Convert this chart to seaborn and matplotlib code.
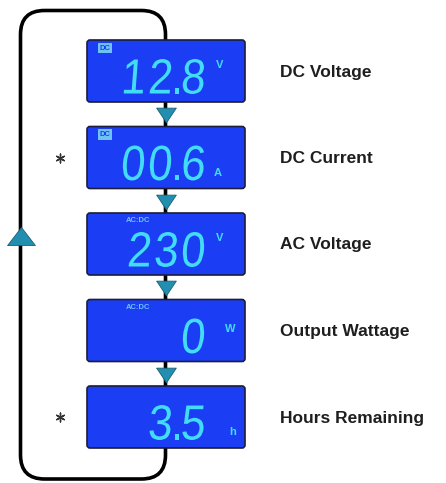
import matplotlib
matplotlib.use("Agg")
import matplotlib.pyplot as plt
import seaborn as sns
import pandas as pd
from matplotlib.patches import FancyBboxPatch, PathPatch
from matplotlib.textpath import TextPath
from matplotlib.font_manager import FontProperties
from matplotlib.transforms import Affine2D

sns.set_theme(style="white")
plt.rcParams['font.family'] = ['Liberation Sans', 'DejaVu Sans']

# display cycle data
labels = ["DC Voltage", "DC Current", "AC Voltage", "Output Wattage", "Hours Remaining"]
readings = ["12.8", "00.6", "230", "0", "3.5"]
units = ["V", "A", "V", "W", "h"]
modes = ["DC", "DC", "AC", "AC", ""]
starred = [False, True, False, False, True]

# layout (pixels)
W, H = 446, 483
scr_x0, scr_x1 = 87, 245
scr_top0, pitch, scr_h = 40, 86.5, 62
line_x = 165.5
blue = "#1b3ef5"
cyan = "#42dcf6"
teal = "#238fb0"
unit_offset = {"V": 25, "W": 29, "A": 47, "h": 46}
unit_x = {"V": 220, "A": 218, "W": 230, "h": 233}
digit_cell, digit_w, digit_h = 27, 21, 35

fig = plt.figure(figsize=(W / 100, H / 100), dpi=100)
ax = fig.add_axes([0, 0, 1, 1])
ax.set_xlim(0, W)
ax.set_ylim(H, 0)
ax.axis("off")

# loop line
loop = FancyBboxPatch((20.5, 10.5), line_x - 20.5, 468.5,
                      boxstyle="round,pad=0,rounding_size=24",
                      fill=False, ec="black", lw=2.6, zorder=1)
ax.add_patch(loop)

tops = [scr_top0 + i * pitch for i in range(len(labels))]
centers = [t + scr_h / 2 for t in tops]

digit_font = FontProperties(family="Liberation Sans")
ref = TextPath((0, 0), "0", size=49, prop=digit_font).get_extents()
sx = digit_w / ref.width
sy = digit_h / ref.height


def draw_reading(s, x_right, cy):
    for ch in reversed(s):
        tp = TextPath((0, 0), ch, size=49, prop=digit_font)
        ext = tp.get_extents()
        if ch == ".":
            tr = (Affine2D().translate(-ext.x1, -(ref.y0 + ref.y1) / 2)
                  .scale(sx, -sy).translate(x_right + 2, cy))
            x_right -= 6
        else:
            tr = (Affine2D().translate(-ext.x1, -(ref.y0 + ref.y1) / 2)
                  .skew_deg(5, 0).scale(sx, -sy).translate(x_right, cy))
            x_right -= digit_cell
        ax.add_patch(PathPatch(tr.transform_path(tp), fc=cyan, ec="none", zorder=4))


for i, (t, c) in enumerate(zip(tops, centers)):
    scr = FancyBboxPatch((scr_x0, t), scr_x1 - scr_x0, scr_h,
                         boxstyle="round,pad=0,rounding_size=3",
                         fc=blue, ec="#1b1d3a", lw=1.2, zorder=3)
    ax.add_patch(scr)

    draw_reading(readings[i], 204, c + 5.5)

    u = units[i]
    ax.text(unit_x[u], t + unit_offset[u], u, color=cyan, fontsize=8,
            fontweight="bold", ha="center", va="center", zorder=5)

    if modes[i] == "DC":
        ax.text(105, t + 8, "DC", color=blue, fontsize=5.5, fontweight="bold",
                ha="center", va="center", zorder=5,
                bbox=dict(boxstyle="square,pad=0.2", fc="#6ec3f4", ec="none"))
    elif modes[i] == "AC":
        ax.text(138, t + 8, "AC:DC", color="#6ec3f4", fontsize=5.5, fontweight="bold",
                ha="center", va="center", zorder=5)

    ax.text(280, c + 1, labels[i], color="#1e1e1e", fontsize=12.5,
            fontweight="bold", ha="left", va="center", zorder=5)

# arrows between screens
arrows = pd.DataFrame({
    "x": [line_x] * (len(tops) - 1),
    "y": [(tops[i] + scr_h + tops[i + 1]) / 2 + 1 for i in range(len(tops) - 1)],
})
down_tri = [(-1, 0.75), (1, 0.75), (0, -0.75), (-1, 0.75)]
sns.scatterplot(data=arrows, x="x", y="y", ax=ax, marker=down_tri, s=200,
                color=teal, edgecolor="#1c5f75", linewidth=0.6, zorder=6, legend=False)

up = pd.DataFrame({"x": [20.5], "y": [236]})
up_tri = [(-1, -0.65), (1, -0.65), (0, 0.65), (-1, -0.65)]
sns.scatterplot(data=up, x="x", y="y", ax=ax, marker=up_tri, s=400,
                color=teal, edgecolor="#1c5f75", linewidth=0.6, zorder=6, legend=False)

stars = pd.DataFrame({"x": [60] * sum(starred),
                      "y": [c for c, s in zip(centers, starred) if s]})
sns.scatterplot(data=stars, x="x", y="y", ax=ax, marker=(6, 2, 0), s=40,
                color="#333333", linewidth=1.0, zorder=6, legend=False)

ax.set_xlim(0, W)
ax.set_ylim(H, 0)
fig.savefig("out.png", dpi=100)
